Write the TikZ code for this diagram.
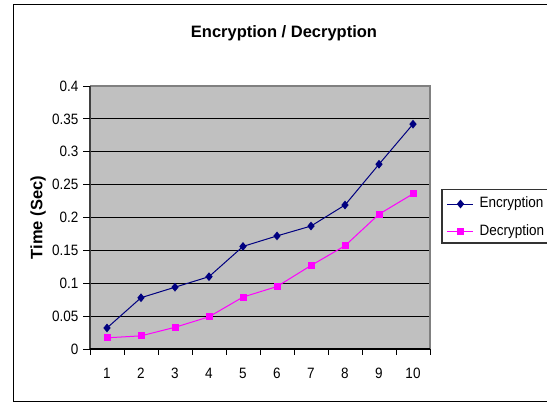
\documentclass[tikz,border=0pt]{standalone}
\usepackage{fontspec}
\setmainfont{Liberation Sans}
\newfontfamily\narrowfont[FakeStretch=0.9]{Liberation Sans}
\usetikzlibrary{shapes.geometric}
\definecolor{encc}{HTML}{000080}
\definecolor{decc}{HTML}{FF00FF}
\definecolor{plotbg}{HTML}{C0C0C0}
\definecolor{axisgray}{HTML}{808080}
\tikzset{
  encmark/.style={diamond, fill=encc, inner sep=0pt, minimum width=7.5pt, minimum height=9pt},
  decmark/.style={rectangle, fill=decc, inner sep=0pt, minimum size=7pt},
  encline/.style={draw=encc, line width=1pt},
  decline/.style={draw=decc, line width=1pt},
  ticklbl/.style={font=\narrowfont\fontsize{15}{16}\selectfont, inner sep=0pt},
  gridline/.style={draw=black, line width=1.2pt},
  legtext/.style={font=\narrowfont\fontsize{15}{16}\selectfont, anchor=west, inner sep=0pt},
}
\begin{document}
\begin{tikzpicture}[x=1pt,y=-1pt]
\useasboundingbox (0,0) rectangle (547,402);
\fill[white] (0,0) rectangle (547,402);
% outer frame
\draw[black, line width=1pt] (560,4) -- (13.5,4) -- (13.5,401) -- (560,401);
% title
\node[font=\bfseries\fontsize{16.5}{18}\selectfont] (title) at (284,33) {Encryption / Decryption};
% plot area
\fill[plotbg] (90,86) rectangle (430,349);
\foreach \k in {1,...,7} {
  \draw[gridline] (90,{349-32.875*\k}) -- (430,{349-32.875*\k});
}
\draw[axisgray, line width=1.3pt] (90,86) -- (430,86) -- (430,349);
\draw[black!75, line width=1.6pt] (90,86) -- (90,349);
\draw[black, line width=1.2pt] (90,349) -- (430,349);
% y ticks and labels
\foreach \k/\lab in {0/0,1/0.05,2/0.1,3/0.15,4/0.2,5/0.25,6/0.3,7/0.35,8/0.4} {
  \draw[black, line width=1pt] (83,{349-32.875*\k}) -- (90,{349-32.875*\k});
  \node[ticklbl, anchor=east] (yl\k) at (78.5,{349-32.875*\k}) {\lab};
}
% x ticks and labels
\foreach \i in {0,...,10} {
  \draw[black, line width=1pt] ({90+34*\i},349) -- ({90+34*\i},355);
}
\foreach \i in {1,...,10} {
  \node[ticklbl] (xl\i) at ({73+34*\i},373.5) {\i};
}
% y-axis title
\node[font=\bfseries\fontsize{16.5}{18}\selectfont, rotate=90] (ytitle) at (38,217.5) {Time (Sec)};
% data coordinates
\foreach \v [count=\i] in {0.032,0.078,0.094,0.110,0.156,0.172,0.187,0.219,0.281,0.342} {
  \coordinate (pe\i) at ({73+34*\i},{349-657.5*\v});
}
\foreach \v [count=\i] in {0.017,0.020,0.033,0.049,0.079,0.095,0.127,0.157,0.205,0.236} {
  \coordinate (pd\i) at ({73+34*\i},{349-657.5*\v});
}
\draw[encline] (pe1) -- (pe2) -- (pe3) -- (pe4) -- (pe5) -- (pe6) -- (pe7) -- (pe8) -- (pe9) -- (pe10);
\draw[decline] (pd1) -- (pd2) -- (pd3) -- (pd4) -- (pd5) -- (pd6) -- (pd7) -- (pd8) -- (pd9) -- (pd10);
\foreach \i in {1,...,10} {
  \node[decmark] (md\i) at (pd\i) {};
  \node[encmark] (me\i) at (pe\i) {};
}
% legend
\draw[black!80, line width=1.2pt, fill=white] (560,189.5) -- (442,189.5) -- (442,243) -- (560,243);
\coordinate (le1) at (447,204);
\coordinate (le2) at (473,204);
\coordinate (ld1) at (447,231.5);
\coordinate (ld2) at (473,231.5);
\draw[encline] (le1) -- (le2);
\draw[decline] (ld1) -- (ld2);
\node[encmark] (lme) at (460.5,204) {};
\node[decmark] (lmd) at (460.5,231.5) {};
\node[legtext] (lte) at (479.5,204) {Encryption};
\node[legtext] (ltd) at (479.5,231.5) {Decryption};
\end{tikzpicture}
\end{document}
